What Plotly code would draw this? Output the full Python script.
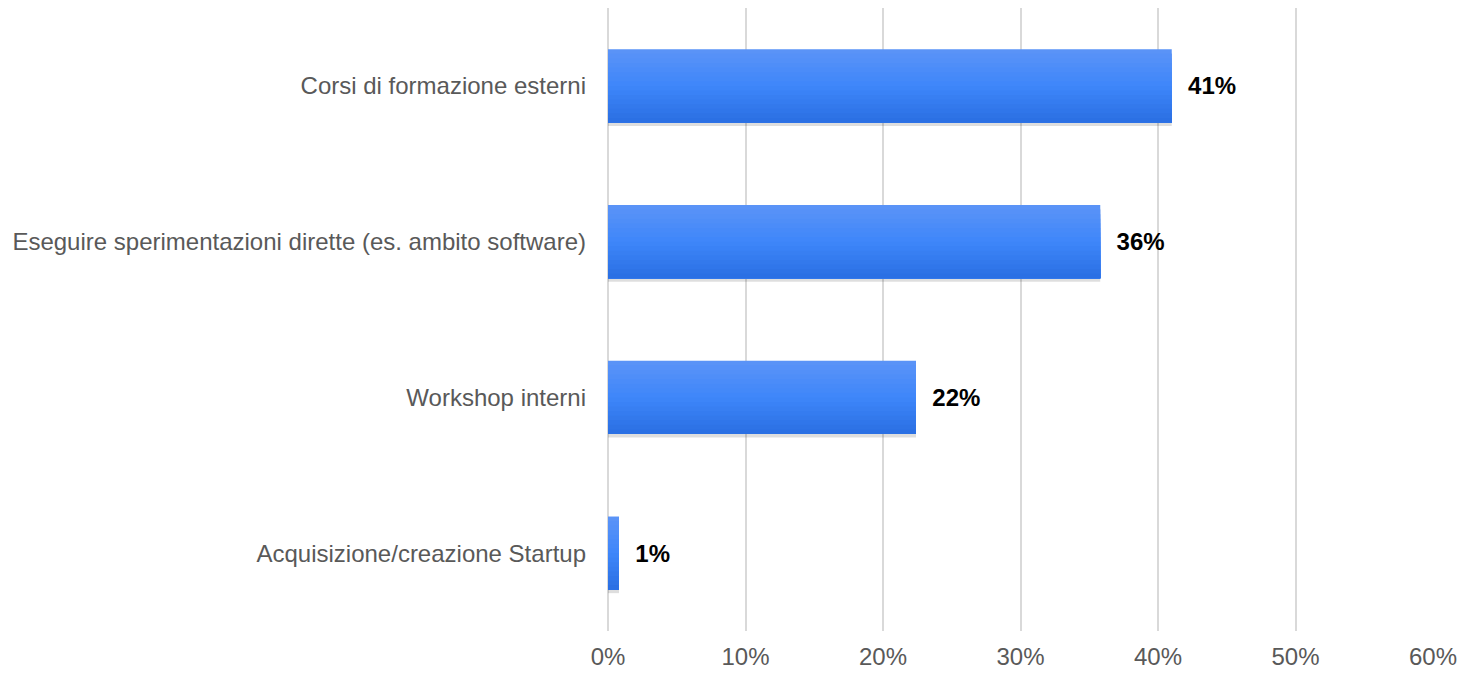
import plotly.graph_objects as go

categories = [
    "Corsi di formazione esterni",
    "Eseguire sperimentazioni dirette (es. ambito software)",
    "Workshop interni",
    "Acquisizione/creazione Startup",
]
values = [41.0, 35.8, 22.4, 0.8]
value_labels = ["41%", "36%", "22%", "1%"]
tick_vals = [0, 10, 20, 30, 40, 50, 60]
tick_text = ["0%", "10%", "20%", "30%", "40%", "50%", "60%"]

FONT = "Liberation Sans, Arial, sans-serif"
BAR_W = 0.47
N_BANDS = 16
TOP = (0x5C, 0x94, 0xF7)
MID = (0x3E, 0x86, 0xFA)
BOT = (0x2A, 0x6F, 0xE2)


def lerp(a, b, t):
    return tuple(int(round(a[k] + (b[k] - a[k]) * t)) for k in range(3))


fig = go.Figure()

# soft shadow
fig.add_trace(go.Bar(
    y=categories, x=values, orientation="h",
    width=BAR_W, offset=-BAR_W / 2 + 0.022,
    marker=dict(color="rgba(0,0,0,0.13)", line=dict(width=0)),
    hoverinfo="skip",
))

# vertical gradient: each band runs from its start to the bar bottom,
# later bands paint over earlier ones (no seams)
for i in range(N_BANDS):
    t = (i + 0.5) / N_BANDS
    c = lerp(TOP, MID, t * 2) if t < 0.5 else lerp(MID, BOT, (t - 0.5) * 2)
    start = i * BAR_W / N_BANDS
    fig.add_trace(go.Bar(
        y=categories, x=values, orientation="h",
        width=BAR_W - start,
        offset=-BAR_W / 2 + start,
        marker=dict(color="rgb(%d,%d,%d)" % c, line=dict(width=0)),
        hoverinfo="skip",
    ))

# transparent bar carrying the value labels
fig.add_trace(go.Bar(
    y=categories, x=values, orientation="h",
    width=BAR_W,
    marker=dict(color="rgba(0,0,0,0)", line=dict(width=0)),
    text=["  " + t for t in value_labels],
    textposition="outside",
    textfont=dict(family=FONT, size=24, color="#000000", weight="bold"),
    cliponaxis=False,
    hoverinfo="skip",
))

fig.update_layout(
    width=1460,
    height=673,
    barmode="overlay",
    margin=dict(l=608, r=27, t=8, b=42, autoexpand=False),
    paper_bgcolor="white",
    plot_bgcolor="white",
    showlegend=False,
    font=dict(family=FONT, size=24, color="#595959"),
    xaxis=dict(
        range=[0, 60],
        tickvals=tick_vals,
        ticktext=tick_text,
        showgrid=True,
        gridcolor="#d9d9d9",
        gridwidth=2,
        zeroline=True,
        zerolinecolor="#d9d9d9",
        zerolinewidth=2,
        layer="below traces",
        showline=False,
        ticks="",
        automargin=False,
        ticklabelstandoff=9,
        tickfont=dict(size=24, color="#595959"),
    ),
    yaxis=dict(
        autorange="reversed",
        showgrid=False,
        zeroline=False,
        showline=False,
        ticks="",
        automargin=False,
        ticklabelstandoff=21,
        tickfont=dict(size=24, color="#595959"),
    ),
)

fig.write_html(
    "out.html",
    config={"displayModeBar": False},
    post_script="document.body.style.margin='0';document.body.style.padding='0';",
)
